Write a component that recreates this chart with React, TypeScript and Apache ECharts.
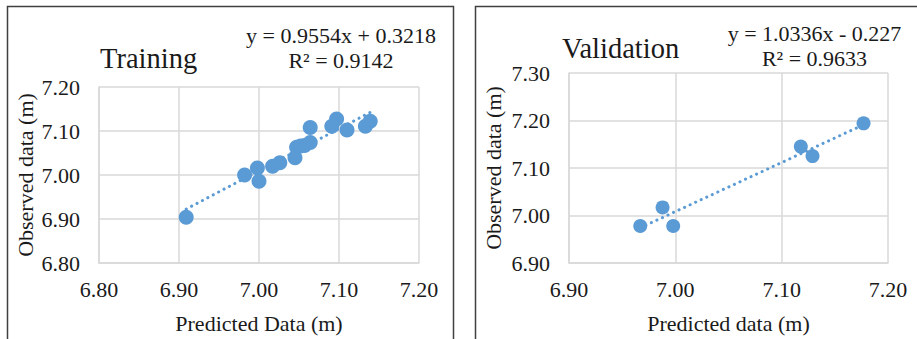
import React, { useEffect, useRef } from "react";
import * as echarts from "echarts";

// ---- data ----
const trainPredicted = [6.909, 6.982, 6.998, 7.0, 7.017, 7.026, 7.045, 7.047, 7.052, 7.057, 7.064, 7.064, 7.091, 7.097, 7.11, 7.133, 7.139];
const trainObserved = [6.904, 7.0, 7.016, 6.986, 7.02, 7.028, 7.039, 7.063, 7.066, 7.067, 7.074, 7.108, 7.111, 7.127, 7.102, 7.111, 7.122];
const validPredicted = [6.967, 6.988, 6.998, 7.118, 7.129, 7.177];
const validObserved = [6.978, 7.017, 6.978, 7.145, 7.125, 7.194];

const trainSlope = 0.9554;
const trainIntercept = 0.3218;
const validSlope = 1.0336;
const validIntercept = -0.227;

const trainXTicks = [6.8, 6.9, 7.0, 7.1, 7.2];
const trainYTicks = [6.8, 6.9, 7.0, 7.1, 7.2];
const validXTicks = [6.9, 7.0, 7.1, 7.2];
const validYTicks = [6.9, 7.0, 7.1, 7.2, 7.3];

const trainTitle = "Training";
const validTitle = "Validation";
const trainEq = ["y = 0.9554x + 0.3218", "R² = 0.9142"];
const validEq = ["y = 1.0336x - 0.227", "R² = 0.9633"];
const trainXName = "Predicted Data (m)";
const validXName = "Predicted data (m)";
const yName = "Observed data (m)";

const FONT = "Liberation Serif";
const BLUE = "#5b9bd5";
const GRID = "#d9d9d9";
const TEXT = "#1a1a1a";

function trend(xs: number[], m: number, b: number) {
  const lo = Math.min(...xs);
  const hi = Math.max(...xs);
  return [
    [lo, m * lo + b],
    [hi, m * hi + b],
  ];
}

const labelStyle = {
  fontFamily: FONT,
  fontSize: 22,
  color: TEXT,
  showMinLabel: true,
  showMaxLabel: true,
  formatter: (v: number) => `{t|${v.toFixed(2)}}`,
  rich: { t: { fontFamily: FONT, fontSize: 22, color: TEXT } },
};

function makeXAxis(gridIndex: number, ticks: number[], name: string) {
  return {
    type: "value",
    gridIndex,
    min: ticks[0],
    max: ticks[ticks.length - 1],
    interval: 0.1,
    name,
    nameLocation: "middle",
    nameGap: 49,
    nameTextStyle: { fontFamily: FONT, fontSize: 22, color: TEXT },
    axisLine: { show: true, lineStyle: { color: GRID, width: 1.5 } },
    axisTick: { show: false },
    splitLine: { show: true, lineStyle: { color: GRID, width: 1.5 } },
    axisLabel: { ...labelStyle, margin: 15 },
  };
}

function makeYAxis(gridIndex: number, ticks: number[], gap: number) {
  return {
    type: "value",
    gridIndex,
    min: ticks[0],
    max: ticks[ticks.length - 1],
    interval: 0.1,
    name: yName,
    nameLocation: "middle",
    nameGap: gap,
    nameTextStyle: { fontFamily: FONT, fontSize: 22, color: TEXT },
    axisLine: { show: true, lineStyle: { color: GRID, width: 1.5 } },
    axisTick: { show: false },
    splitLine: { show: true, lineStyle: { color: GRID, width: 1.5 } },
    axisLabel: { ...labelStyle, margin: 19 },
  };
}

export default function App() {
  const ref = useRef<HTMLDivElement>(null);

  useEffect(() => {
    if (!ref.current) return;
    const chart = echarts.init(ref.current, null, { renderer: "svg" });

    const trainPts = trainPredicted.map((x, i) => [x, trainObserved[i]]);
    const validPts = validPredicted.map((x, i) => [x, validObserved[i]]);

    const lineStyle = {
      color: BLUE,
      width: 3,
      type: [0.1, 6],
      cap: "round",
    };

    chart.setOption({
      animation: false,
      backgroundColor: "#ffffff",
      textStyle: { fontFamily: FONT, color: TEXT },
      grid: [
        { left: 99, top: 87, width: 320, height: 179, containLabel: false },
        { left: 569, top: 73, width: 319, height: 193, containLabel: false },
      ],
      xAxis: [makeXAxis(0, trainXTicks, trainXName), makeXAxis(1, validXTicks, validXName)],
      yAxis: [makeYAxis(0, trainYTicks, 63), makeYAxis(1, validYTicks, 65)],
      series: [
        {
          type: "line",
          xAxisIndex: 0,
          yAxisIndex: 0,
          data: trend(trainPredicted, trainSlope, trainIntercept),
          showSymbol: false,
          symbol: "none",
          lineStyle,
          z: 1,
        },
        {
          type: "scatter",
          xAxisIndex: 0,
          yAxisIndex: 0,
          data: trainPts,
          symbolSize: 15,
          itemStyle: { color: BLUE, opacity: 1 },
          z: 2,
        },
        {
          type: "line",
          xAxisIndex: 1,
          yAxisIndex: 1,
          data: trend(validPredicted, validSlope, validIntercept),
          showSymbol: false,
          symbol: "none",
          lineStyle,
          z: 1,
        },
        {
          type: "scatter",
          xAxisIndex: 1,
          yAxisIndex: 1,
          data: validPts,
          symbolSize: 14,
          itemStyle: { color: BLUE, opacity: 1 },
          z: 2,
        },
      ],
      graphic: [
        {
          type: "rect",
          shape: { x: 7.5, y: 6.5, width: 446, height: 345 },
          style: { fill: "none", stroke: "#404040", lineWidth: 1.5 },
          silent: true,
        },
        {
          type: "rect",
          shape: { x: 475.5, y: 6.5, width: 460, height: 345 },
          style: { fill: "none", stroke: "#404040", lineWidth: 1.5 },
          silent: true,
        },
        {
          type: "text",
          x: 100,
          y: 58,
          style: { text: trainTitle, font: `28.5px ${FONT}`, fill: TEXT, align: "left", verticalAlign: "middle" },
        },
        {
          type: "text",
          x: 341,
          y: 35.5,
          style: { text: trainEq[0], font: `22px ${FONT}`, fill: TEXT, align: "center", verticalAlign: "middle" },
        },
        {
          type: "text",
          x: 341,
          y: 60.5,
          style: { text: trainEq[1], font: `22px ${FONT}`, fill: TEXT, align: "center", verticalAlign: "middle" },
        },
        {
          type: "text",
          x: 562,
          y: 48,
          style: { text: validTitle, font: `28.5px ${FONT}`, fill: TEXT, align: "left", verticalAlign: "middle" },
        },
        {
          type: "text",
          x: 814.5,
          y: 33.5,
          style: { text: validEq[0], font: `22px ${FONT}`, fill: TEXT, align: "center", verticalAlign: "middle" },
        },
        {
          type: "text",
          x: 814.5,
          y: 58,
          style: { text: validEq[1], font: `22px ${FONT}`, fill: TEXT, align: "center", verticalAlign: "middle" },
        },
      ],
    });

    return () => chart.dispose();
  }, []);

  return (
    <div
      ref={ref}
      style={{ position: "absolute", left: 0, top: 0, width: 917, height: 339 }}
    />
  );
}
